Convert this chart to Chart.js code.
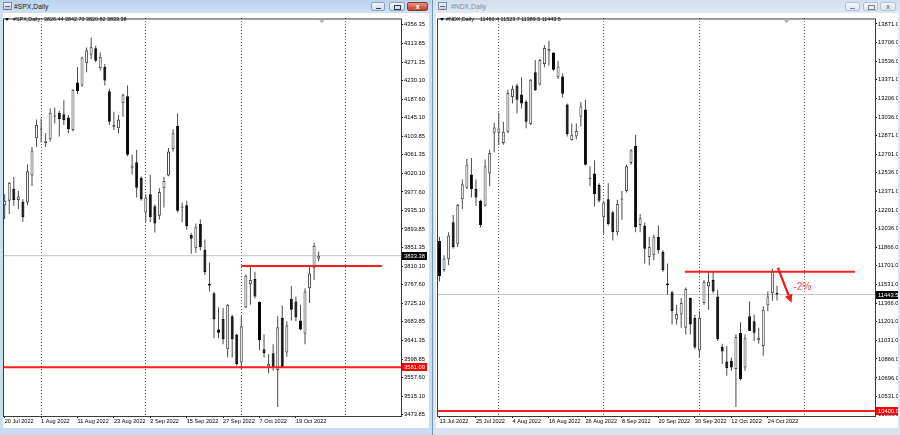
<!DOCTYPE html>
<html><head><meta charset="utf-8">
<script src="https://cdn.jsdelivr.net/npm/chart.js@4.4.1/dist/chart.umd.min.js"></script>
<style>
html,body{margin:0;padding:0}
body{width:900px;height:435px;overflow:hidden;position:relative;background:#6f98bd;font-family:"Liberation Sans",Arial,sans-serif}
.win{position:absolute;top:0;height:435px}
#wl{left:0;width:432px;background:linear-gradient(#bad2ec,#cfe0f3 13px,#c8dbf0)}
#wr{left:433px;width:467px;background:linear-gradient(#d2dfed,#e1e9f3 13px,#d9e4f0)}
.client{position:absolute;top:13px;height:415px;background:#fff}
.title{position:absolute;top:1.5px;font-size:6.8px;line-height:9px;white-space:nowrap}
.icon{position:absolute;top:2px;width:9px;height:8px;border:1px solid #6f8fb3;background:linear-gradient(#f4f8fc,#b9cfe8);box-sizing:border-box}
.icon:after{content:"";position:absolute;left:1px;top:3px;width:5px;height:2px;border-top:1px solid #3d77b8;border-bottom:1px solid #c0504d}
.btn{position:absolute;top:2px;height:9px;box-sizing:border-box;border:1px solid #8aa2bf;border-radius:2px;background:linear-gradient(#f1f6fb,#cbd9ea)}
.btn.close{background:linear-gradient(#e79182,#c4412f);border-color:#8b3a31}
.btn.dim{border-color:#b3c2d3;background:linear-gradient(#f2f5f9,#dde5ee)}
.mn{position:absolute;left:4px;top:4.5px;width:5px;height:1.5px;background:#2b3b4d}
.mx{position:absolute;left:4px;top:1.5px;width:5px;height:3px;border:1px solid #2b3b4d;border-top-width:1.5px}
.cx{position:absolute;left:0;right:0;top:-1.5px;text-align:center;font-size:7.5px;font-weight:bold;color:#fff;font-style:normal}
.dim .mn{background:#7b8898}.dim .mx{border-color:#7b8898}.dim .cx{color:#7b8898}
canvas{position:absolute}
.hdr{position:absolute;top:15.5px;font-size:5.4px;line-height:7px;color:#000;white-space:pre}
.tri{position:absolute;top:18px;width:0;height:0;border-left:2px solid transparent;border-right:2px solid transparent;border-top:3px solid #000}
</style></head>
<body>
<div class="win" id="wl">
  <div class="icon" style="left:3px"></div>
  <div class="title" style="left:14px;color:#1a1a1a">#SPX,Daily</div>
  <div class="btn" style="left:371px;width:14px"><i class="mn"></i></div>
  <div class="btn" style="left:389px;width:16px"><i class="mx"></i></div>
  <div class="btn close" style="left:407px;width:21px"><i class="cx">x</i></div>
  <div class="client" style="left:3px;width:426px"></div>
  <canvas id="spx" width="427" height="414" style="left:3px;top:14px;width:427px;height:414px"></canvas>
  <div class="tri" style="left:5px"></div>
  <div class="hdr" style="left:13px">#SPX,Daily</div>
  <div class="hdr" id="spxHdr" style="left:44px"></div>
</div>
<div class="win" id="wr">
  <div class="icon" style="left:5px"></div>
  <div class="title" style="left:18px;color:#7d8a99">#NDX,Daily</div>
  <div class="btn dim" style="left:412px;width:15px"><i class="mn"></i></div>
  <div class="btn dim" style="left:430px;width:15px"><i class="mx"></i></div>
  <div class="btn dim" style="left:447px;width:16px"><i class="cx">x</i></div>
  <div class="client" style="left:3px;width:462px"></div>
  <canvas id="ndx" width="461" height="414" style="left:4px;top:14px;width:461px;height:414px"></canvas>
  <div class="tri" style="left:7px"></div>
  <div class="hdr" style="left:13px">#NDX,Daily</div>
  <div class="hdr" id="ndxHdr" style="left:47px"></div>
</div>
<script>
// ---------------- DATA ----------------
const spxDates = ['20 Jul 2022','21 Jul 2022','22 Jul 2022','25 Jul 2022','26 Jul 2022','27 Jul 2022','28 Jul 2022','29 Jul 2022',
 '1 Aug 2022','2 Aug 2022','3 Aug 2022','4 Aug 2022','5 Aug 2022','8 Aug 2022','9 Aug 2022','10 Aug 2022','11 Aug 2022','12 Aug 2022',
 '15 Aug 2022','16 Aug 2022','17 Aug 2022','18 Aug 2022','19 Aug 2022','22 Aug 2022','23 Aug 2022','24 Aug 2022','25 Aug 2022','26 Aug 2022',
 '29 Aug 2022','30 Aug 2022','31 Aug 2022',
 '1 Sep 2022','2 Sep 2022','6 Sep 2022','7 Sep 2022','8 Sep 2022','9 Sep 2022','12 Sep 2022','13 Sep 2022','14 Sep 2022','15 Sep 2022',
 '16 Sep 2022','19 Sep 2022','20 Sep 2022','21 Sep 2022','22 Sep 2022','23 Sep 2022','26 Sep 2022','27 Sep 2022','28 Sep 2022','29 Sep 2022','30 Sep 2022',
 '3 Oct 2022','4 Oct 2022','5 Oct 2022','6 Oct 2022','7 Oct 2022','10 Oct 2022','11 Oct 2022','12 Oct 2022','13 Oct 2022','14 Oct 2022',
 '17 Oct 2022','18 Oct 2022','19 Oct 2022','20 Oct 2022','21 Oct 2022','24 Oct 2022','25 Oct 2022','26 Oct 2022'];
const spxOpen  = [3947.7,3957.4,3985.0,3959.6,3955.2,3953.7,4014.8,4099.1,4119.2,4087.9,4096.8,4149.8,4156.5,4153.5,4146.1,4117.7,4225.1,4218.4,4268.3,4287.7,
 4302.6,4257.2,4260.9,4205.0,4123.7,4121.5,4178.9,4193.8,4031.2,4044.6,4009.6,3931.3,3972.3,3945.0,3923.8,3985.8,4014.8,4074.4,4126.7,3942.0,
 3947.7,3880.0,3850.0,3905.0,3847.0,3770.0,3748.6,3666.6,3690.4,3621.8,3696.4,3655.4,3592.0,3716.5,3768.7,3780.7,3728.5,3621.8,3583.1,3612.9,
 3574.9,3692.7,3614.4,3735.9,3730.0,3686.7,3656.9,3759.8,3806.0,3826.44];
const spxHigh  = [3972.3,3999.9,4011.1,3979.8,3961.1,4039.4,4079.0,4141.6,4143.8,4110.3,4166.2,4168.4,4161.0,4184.8,4151.3,4210.2,4259.4,4283.3,4304.1,4326.5,
 4307.9,4293.0,4266.9,4210.9,4158.7,4151.3,4199.7,4218.4,4061.8,4073.0,4013.3,3972.3,4017.1,3950.0,3986.0,4011.8,4076.7,4119.2,4155.0,3953.7,
 3957.4,3885.0,3906.0,3915.0,3870.0,3818.0,3752.0,3716.5,3715.0,3724.0,3700.0,3657.0,3696.4,3791.1,3808.3,3797.1,3730.0,3655.4,3610.6,3633.0,
 3696.4,3721.0,3685.2,3765.0,3741.2,3722.5,3759.8,3812.0,3862.7,3842.70];
const spxLow   = [3916.4,3927.6,3946.2,3938.8,3910.4,3947.7,3991.0,4079.0,4089.4,4079.0,4091.6,4132.6,4102.8,4128.9,4110.3,4114.0,4199.7,4214.7,4248.2,4278.0,
 4270.6,4251.9,4218.4,4128.9,4117.7,4110.3,4147.6,4058.1,4017.1,3964.9,3957.4,3908.9,3908.9,3886.0,3915.0,3942.5,4013.3,4069.2,3931.3,3909.0,
 3892.0,3838.0,3840.0,3845.0,3790.0,3752.4,3646.5,3646.5,3633.0,3603.2,3603.2,3584.5,3577.0,3715.0,3722.5,3737.4,3619.6,3603.2,3567.4,3573.4,
 3491.3,3579.3,3604.7,3686.7,3685.2,3664.3,3633.0,3726.2,3778.4,3820.82];
const spxClose = [3957.4,3998.4,3959.6,3967.1,3920.1,4024.5,4071.5,4128.9,4118.5,4092.4,4156.5,4148.3,4142.3,4140.1,4119.2,4208.7,4205.7,4281.8,4298.2,4305.6,
 4274.3,4283.3,4229.6,4136.4,4128.9,4141.6,4197.5,4061.8,4037.2,3987.3,3961.1,3964.9,3920.1,3906.0,3977.5,4002.1,4069.2,4110.3,3935.0,3944.5,
 3900.0,3872.0,3898.0,3853.0,3796.3,3765.8,3688.9,3659.1,3644.2,3722.5,3644.2,3588.3,3674.0,3788.1,3778.4,3741.2,3642.0,3612.9,3588.3,3580.8,
 3671.8,3580.8,3675.5,3711.3,3694.2,3666.6,3752.4,3793.3,3855.3,3833.38];
const spxPriceTicks = [4356.35,4313.85,4271.35,4230.10,4187.60,4145.10,4103.85,4061.35,4020.10,3977.60,3935.10,3893.85,3851.35,3810.10,
 3767.60,3725.10,3683.85,3641.35,3598.85,3557.60,3515.10,3473.85];
const spxResistance = 3810.1;
const spxSupport = 3581.09;

const ndxDates = ['13 Jul 2022','14 Jul 2022','15 Jul 2022','18 Jul 2022','19 Jul 2022', ...spxDates];
const ndxOpen  = [11925,11663,11760,12092,11900,12299,12402,12521,12393,12284,12240,12530,12896,12896,12802,12905,13216,13319,13239,13171,
 12973,13438,13328,13512,13624,13615,13393,13399,13148,12831,12861,13038,13103,12491,12530,12426,12136,12299,12181,12003,
 12293,12373,12624,12778,12068,12060,11781,11796,11960,11826,11542,11465,11219,11264,11145,11412,11234,10944,11367,11515,
 11574,11427,10974,10844,10850,10776,11101,10790,11249,11205,11033,10983,11347,11456,11460.4];
const ndxHigh  = [11960,11796,12003,12157,12255,12476,12660,12668,12476,12293,12654,12742,12985,13074,12994,13281,13319,13334,13393,13192,
 13378,13547,13556,13683,13719,13615,13541,13429,13157,12979,12979,13171,13192,12595,12648,12441,12284,12441,12195,12293,
 12373,12609,12748,12876,12166,12090,11959,11979,12062,11840,11722,11477,11352,11412,11506,11418,11263,11293,11574,11648,
 11648,11486,11003,10982,10879,11086,11195,11086,11382,11264,11145,11338,11471,11676,11523.7];
const ndxLow   = [11560,11648,11707,11855,11870,12210,12388,12314,12240,12047,12234,12417,12719,12787,12787,12890,13157,13068,13112,12935,
 12964,13269,13319,13482,13497,13452,13378,13210,12861,12825,12837,12950,12601,12417,12234,12269,11988,12062,11929,11974,
 12115,12358,12609,12003,12003,11722,11707,11752,11811,11648,11441,11175,11175,11145,11086,11086,10953,10879,11352,11308,
 11456,11027,10820,10716,10761,10435,10672,10761,11116,11027,11003,10894,11293,11388,11389.5];
const ndxClose = [11610,11766,11973,11870,12246,12432,12609,12388,12314,12068,12595,12713,12941,12932,12905,13251,13290,13192,13157,12994,
 13370,13275,13547,13654,13645,13461,13488,13245,12884,12876,12911,13133,12609,12482,12343,12284,12269,12077,12003,12255,
 12305,12595,12737,12047,12127,11855,11870,11958,11840,11663,11530,11293,11270,11367,11494,11175,10968,11234,11559,11559,
 11471,11042,10932,10785,10790,11063,10687,11051,11116,11101,11057,11308,11426,11653,11443.5];
const ndxPriceTicks = [13871.0,13706.0,13536.0,13371.0,13206.0,13036.0,12871.0,12701.0,12536.0,12371.0,12201.0,12036.0,11866.0,11701.0,
 11531.0,11366.0,11201.0,11031.0,10866.0,10696.0,10531.0,10366.0];
const ndxResistance = 11648;
const ndxSupport = 10400.0;
const ndxMoveLabel = '-2%';

// ---------------- HELPERS ----------------
const FONT = '"Liberation Sans", Arial, sans-serif';
const MONTHS = ['Jan','Feb','Mar','Apr','May','Jun','Jul','Aug','Sep','Oct','Nov','Dec'];
function parseD(s){ const p = s.split(' '); return Date.UTC(+p[2], MONTHS.indexOf(p[1]), +p[0]); }
function monthLines(dates){
  const out = [];
  for (let i = 1; i < dates.length; i++) if (dates[i].split(' ')[1] !== dates[i-1].split(' ')[1]) out.push(i);
  // next month start in the empty area (calendar days, as the terminal extrapolates)
  const last = new Date(parseD(dates[dates.length-1]));
  const next = Date.UTC(last.getUTCFullYear(), last.getUTCMonth()+1, 1);
  out.push(dates.length - 1 + (next - last.getTime()) / 86400000);
  return out;
}

const mtDecor = {
  id: 'mtDecor',
  afterDatasetsDraw(chart, args, o) {
    const {ctx, scales:{x, y}} = chart;
    if (o.arrow) {
      const x1 = x.getPixelForValue(o.arrow.from[0]), y1 = y.getPixelForValue(o.arrow.from[1]);
      const x2 = x.getPixelForValue(o.arrow.to[0]),   y2 = y.getPixelForValue(o.arrow.to[1]);
      const ang = Math.atan2(y2 - y1, x2 - x1), hl = 8, hw = 4;
      const bx = x2 - hl * Math.cos(ang), by = y2 - hl * Math.sin(ang);
      ctx.save();
      ctx.strokeStyle = '#ef1a1a'; ctx.fillStyle = '#ef1a1a'; ctx.lineWidth = 2.2;
      ctx.beginPath(); ctx.moveTo(x1, y1); ctx.lineTo(bx, by); ctx.stroke();
      ctx.beginPath(); ctx.moveTo(x2, y2);
      ctx.lineTo(bx + hw * Math.sin(ang), by - hw * Math.cos(ang));
      ctx.lineTo(bx - hw * Math.sin(ang), by + hw * Math.cos(ang));
      ctx.closePath(); ctx.fill();
      ctx.fillStyle = '#f24b4b'; ctx.font = '10px ' + FONT; ctx.textBaseline = 'middle'; ctx.textAlign = 'left';
      ctx.fillText(o.arrow.text, x.getPixelForValue(o.arrow.textAt[0]), y.getPixelForValue(o.arrow.textAt[1]));
      ctx.restore();
    }
  },
  afterDraw(chart, args, o) {
    const {ctx, chartArea:a, scales:{x, y}} = chart;
    ctx.save();
    ctx.strokeStyle = '#3a3a3a'; ctx.lineWidth = 1;
    ctx.strokeRect(a.left + 0.5, a.top + 0.5, a.right - a.left, a.bottom - a.top);
    // chart shift marker
    const sx = x.getPixelForValue(o.shiftAt);
    ctx.fillStyle = '#b4b4b4';
    ctx.beginPath(); ctx.moveTo(sx - 3, a.top + 1); ctx.lineTo(sx + 3, a.top + 1); ctx.lineTo(sx, a.top + 5); ctx.closePath(); ctx.fill();
    // price boxes
    ctx.font = '5.8px ' + FONT; ctx.textBaseline = 'middle'; ctx.textAlign = 'left';
    for (const b of o.boxes) {
      const py = y.getPixelForValue(b.v);
      ctx.fillStyle = b.bg; ctx.fillRect(a.right + 1, Math.round(py) - 4, o.boxW, 8);
      ctx.fillStyle = '#fff'; ctx.fillText(b.v.toFixed(o.dec), a.right + 3, py + 0.5);
    }
    ctx.restore();
  }
};

function buildChart(id, d) {
  const n = d.dates.length;
  const up = i => d.close[i] >= d.open[i];
  const wick = d.dates.map((_, i) => ({x: i, y: [d.low[i], d.high[i]]}));
  const body = d.dates.map((_, i) => ({x: i, y: [d.open[i], d.close[i]]}));
  const labelIdx = d.dates.map((_, i) => i).filter(i => i % 8 === 0);
  const gridIdx = monthLines(d.dates);
  const last = d.close[n - 1];
  const hline = (from, to, v) => [{x: from, y: v}, {x: to, y: v}];
  return new Chart(document.getElementById(id), {
    type: 'bar',
    data: { datasets: [
      { type: 'line', data: hline(d.xMin, d.xMax, last), borderColor: '#c4c4c4', borderWidth: 1, pointRadius: 0, order: 9, xAxisID: 'x', yAxisID: 'y' },
      { type: 'bar', data: wick, backgroundColor: '#4a4a4a', borderWidth: 0, barThickness: 1, grouped: false, inflateAmount: 0, order: 8, xAxisID: 'x', yAxisID: 'y' },
      { type: 'bar', data: body,
        backgroundColor: c => up(c.dataIndex) ? '#ffffff' : '#000000',
        borderColor: c => up(c.dataIndex) ? '#4a4a4a' : '#000000',
        borderWidth: 1, borderSkipped: false, barThickness: 3, minBarLength: 1, grouped: false, inflateAmount: 0, order: 7, xAxisID: 'x', yAxisID: 'y' },
      { type: 'line', data: hline(d.resFrom, d.resTo, d.resistance), borderColor: '#ff1e1e', borderWidth: 2, pointRadius: 0, order: 2, xAxisID: 'x', yAxisID: 'y' },
      { type: 'line', data: hline(d.xMin, d.xMax, d.support), borderColor: '#ff1e1e', borderWidth: 2, pointRadius: 0, order: 2, xAxisID: 'x', yAxisID: 'y' }
    ]},
    options: {
      responsive: false, animation: false, devicePixelRatio: 1,
      layout: { padding: 0 },
      plugins: { legend: {display: false}, tooltip: {enabled: false},
        mtDecor: { boxes: [{v: last, bg: '#000'}, {v: d.support, bg: '#ff0000'}], boxW: d.boxW, dec: d.dec, shiftAt: n - 1 + d.shift, arrow: d.arrow } },
      scales: {
        x: { type: 'linear', position: 'bottom', min: d.xMin, max: d.xMax, bounds: 'data', offset: false,
          afterBuildTicks: s => { s.ticks = labelIdx.map(v => ({value: v})); },
          afterFit: s => { s.height = 12; },
          ticks: { autoSkip: false, maxRotation: 0, minRotation: 0, align: 'start', padding: 0, color: '#000',
                   font: {family: FONT, size: 5.6}, callback: v => d.dates[v] },
          grid: { display: true, drawOnChartArea: false, drawTicks: true, tickLength: 2, color: '#000', offset: false },
          border: { display: false } },
        xg: { type: 'linear', position: 'top', min: d.xMin, max: d.xMax, bounds: 'data', offset: false,
          afterBuildTicks: s => { s.ticks = gridIdx.map(v => ({value: v})); },
          afterFit: s => { s.height = 0; },
          ticks: { display: false },
          grid: { display: true, drawOnChartArea: true, drawTicks: false, color: '#5c5c5c', lineWidth: 1, offset: false },
          border: { display: false, dash: [1, 2] } },
        y: { type: 'linear', position: 'right', min: d.yMin, max: d.yMax, bounds: 'data', beginAtZero: false,
          afterBuildTicks: s => { s.ticks = d.priceTicks.map(v => ({value: v})); },
          afterFit: s => { s.width = d.yW; },
          ticks: { autoSkip: false, padding: 1, color: '#000', font: {family: FONT, size: 5.8}, callback: v => Number(v).toFixed(d.dec) },
          grid: { display: true, drawOnChartArea: false, drawTicks: true, tickLength: 2, color: '#000' },
          border: { display: false } }
      }
    },
    plugins: [mtDecor]
  });
}

buildChart('spx', {
  dates: spxDates, open: spxOpen, high: spxHigh, low: spxLow, close: spxClose, priceTicks: spxPriceTicks,
  resistance: spxResistance, support: spxSupport, resFrom: 52, resTo: 82.9,
  xMin: -0.374, xMax: 87.1, yMin: 3470.94, yMax: 4369.77, yW: 29, dec: 2, boxW: 25, shift: 0.7
});
buildChart('ndx', {
  dates: ndxDates, open: ndxOpen, high: ndxHigh, low: ndxLow, close: ndxClose, priceTicks: ndxPriceTicks,
  resistance: ndxResistance, support: ndxSupport, resFrom: 53.8, resTo: 91.1,
  xMin: -0.548, xMax: 95.5, yMin: 10354.5, yMax: 13919.8, yW: 23, dec: 1, boxW: 23, shift: 2.1,
  arrow: { from: [74.2, 11684], to: [77.2, 11370], text: ndxMoveLabel, textAt: [77.6, 11506] }
});
const fmt = (a, i, dp) => [a.open, a.high, a.low, a.close].map(s => s[i].toFixed(dp)).join(' ');
document.getElementById('spxHdr').textContent = fmt({open: spxOpen, high: spxHigh, low: spxLow, close: spxClose}, spxOpen.length - 1, 2);
document.getElementById('ndxHdr').textContent = fmt({open: ndxOpen, high: ndxHigh, low: ndxLow, close: ndxClose}, ndxOpen.length - 1, 1);
</script>
</body></html>
